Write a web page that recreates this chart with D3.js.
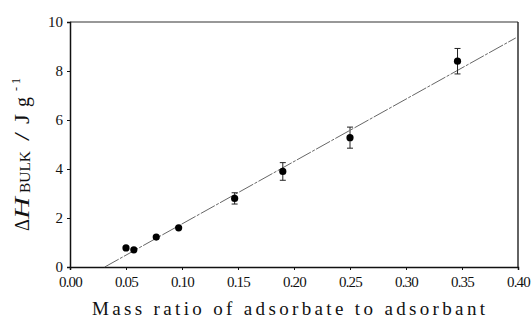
<!DOCTYPE html>
<html><head><meta charset="utf-8">
<script src="https://cdn.jsdelivr.net/npm/d3@7"></script>
<style>body{margin:0;background:#fff}svg{display:block}</style>
</head><body><svg id="c" width="531" height="320"></svg>
<script>
const xVals = [0.050, 0.057, 0.077, 0.097, 0.147, 0.190, 0.250, 0.346];
const yVals = [0.78, 0.70, 1.22, 1.60, 2.80, 3.90, 5.28, 8.40];
const yErr  = [0.08, 0.06, 0.08, 0.10, 0.23, 0.36, 0.43, 0.52];
const fitX = [0.031, 0.398];
const fitY = [0.0, 9.35];
const xTicks = [0, 0.05, 0.10, 0.15, 0.20, 0.25, 0.30, 0.35, 0.40];
const xTickLabels = ["0.00","0.05","0.10","0.15","0.20","0.25","0.30","0.35","0.40"];
const yTicks = [0, 2, 4, 6, 8, 10];

const SERIF = "'Liberation Serif', 'Times New Roman', 'DejaVu Serif', serif";
const svg = d3.select("#c");
const L = 70, R = 518, T = 22, B = 267;
const x = d3.scaleLinear().domain([0, 0.40]).range([L, R]);
const y = d3.scaleLinear().domain([0, 10]).range([B, T]);

// frame top/right
svg.append("line").attr("x1", L).attr("x2", R).attr("y1", T).attr("y2", T).attr("stroke", "#333").attr("stroke-width", 1.2);
svg.append("line").attr("x1", R).attr("x2", R).attr("y1", T).attr("y2", B).attr("stroke", "#222").attr("stroke-width", 1.4);

const xAxis = svg.append("g").attr("transform", `translate(0,${B})`)
  .call(d3.axisBottom(x).tickValues(xTicks).tickFormat((d, i) => xTickLabels[i]).tickSize(3).tickPadding(6));
const yAxis = svg.append("g").attr("transform", `translate(${L},0)`)
  .call(d3.axisLeft(y).tickValues(yTicks).tickSize(3).tickPadding(4));
[xAxis, yAxis].forEach(g => {
  g.attr("font-family", null);
  g.style("font-family", SERIF);
  g.select(".domain").attr("stroke", "#111").attr("stroke-width", 1.5);
  g.selectAll(".tick line").attr("stroke", "#111").attr("stroke-width", 1);
});
xAxis.selectAll(".tick text").attr("font-size", 15).style("font-family", SERIF).attr("fill", "#111").attr("letter-spacing", "-0.8");
yAxis.selectAll(".tick text").attr("font-size", 15).style("font-family", SERIF).attr("fill", "#111");

// fit line
svg.append("line")
  .attr("x1", x(fitX[0])).attr("y1", y(fitY[0]))
  .attr("x2", x(fitX[1])).attr("y2", y(fitY[1]))
  .attr("stroke", "#555").attr("stroke-width", 0.9).attr("stroke-dasharray", "16,1.5,3,1.5");

// error bars
const eb = svg.append("g").attr("stroke", "#222").attr("stroke-width", 1);
xVals.forEach((xv, i) => {
  if (yErr[i] < 0.15) return;
  const cx = x(xv);
  eb.append("line").attr("x1", cx).attr("x2", cx).attr("y1", y(yVals[i] - yErr[i])).attr("y2", y(yVals[i] + yErr[i]));
  [yVals[i] - yErr[i], yVals[i] + yErr[i]].forEach(v => {
    eb.append("line").attr("x1", cx - 3).attr("x2", cx + 3).attr("y1", y(v)).attr("y2", y(v));
  });
});

// points
svg.append("g").selectAll("circle").data(xVals).join("circle")
  .attr("cx", d => x(d)).attr("cy", (d, i) => y(yVals[i])).attr("r", 3.6).attr("fill", "#000");

// x label
svg.append("text").attr("x", 92).attr("y", 315).attr("font-size", 19).style("font-family", SERIF).attr("fill", "#111")
  .attr("textLength", 393).attr("lengthAdjust", "spacing")
  .text("Mass ratio of adsorbate to adsorbant");

// y label (rotated pieces; u = -screenY, v = screenX baseline)
const yg = svg.append("g").attr("transform", "rotate(-90)").style("font-family", SERIF).attr("fill", "#111");
const pieces = [
  {t: "Δ", y0: 231, y1: 219, base: 29, fs: 21},
  {t: "H", y0: 219, y1: 197, base: 29, fs: 22, it: true},
  {t: "BULK", y0: 193, y1: 151, base: 29.5, fs: 15},
  {t: "/", y0: 141, y1: 132, base: 29, fs: 20},
  {t: "J", y0: 124, y1: 114, base: 29, fs: 21},
  {t: "g", y0: 107, y1: 97, base: 29, fs: 21},
  {t: "-", y0: 91, y1: 87, base: 20, fs: 13},
  {t: "1", y0: 84, y1: 78, base: 20, fs: 13}
];
pieces.forEach(p => {
  yg.append("text").attr("x", -p.y0).attr("y", p.base).attr("font-size", p.fs)
    .attr("font-style", p.it ? "italic" : null)
    .attr("textLength", p.y0 - p.y1).attr("lengthAdjust", "spacingAndGlyphs")
    .text(p.t);
});
</script></body></html>
